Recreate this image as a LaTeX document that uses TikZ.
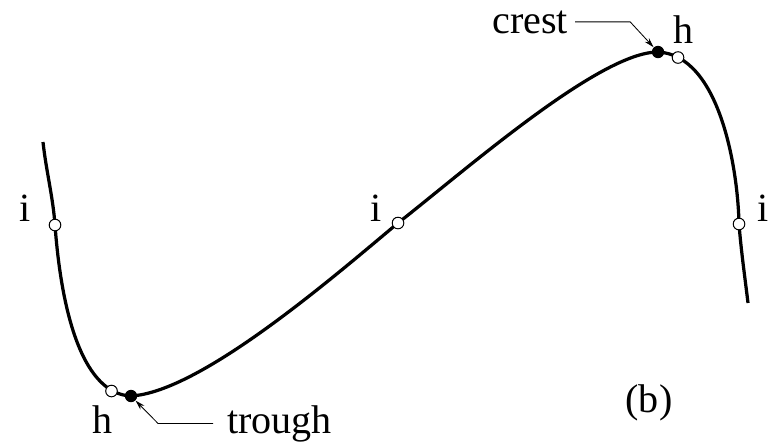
\documentclass[tikz,border=0pt]{standalone}
\usepackage{fontspec}
\setmainfont{Liberation Serif}
\usetikzlibrary{positioning, arrows.meta}

\begin{document}
\begin{tikzpicture}[x=0.025cm, y=-0.025cm, >={Stealth[length=7pt, width=4pt]},
  every node/.style={font=\fontsize{28.5}{34}\selectfont},
  hole/.style={circle, draw, fill=white, line width=0.7pt, minimum size=0.29cm, inner sep=0pt},
  dot/.style={circle, fill=black, minimum size=0.31cm, inner sep=0pt},
  pointer/.style={->, line width=0.6pt}]
\useasboundingbox (0,0) rectangle (783,442);
% points on the curve
\coordinate (top) at (43,142);
\coordinate (ileftpt) at (55,225);
\coordinate (troughpt) at (131,396);
\coordinate (imidpt) at (398,223);
\coordinate (crestpt) at (658,52);
\coordinate (irightpt) at (739,224);
\coordinate (bottom) at (748,303);
\draw[line width=2.3pt] (top) .. controls (46,170) and (53,197) .. (ileftpt)
  .. controls (62,320) and (85,394) .. (troughpt)
  .. controls (200,392) and (330,280) .. (imidpt)
  .. controls (468,168) and (600,52) .. (crestpt)
  .. controls (720,55) and (738,170) .. (irightpt)
  .. controls (741,250) and (745,278) .. (bottom);
% markers
\node[hole] (ileft) at (ileftpt) {};
\node[hole] (hlow) at (111.5,391) {};
\node[dot] (trough) at (troughpt) {};
\node[hole] (imid) at (imidpt) {};
\node[dot] (crest) at (crestpt) {};
\node[hole] (hhigh) at (678,57.5) {};
\node[hole] (iright) at (irightpt) {};
% labels
\node (ileftlbl) at (25,208) {i};
\node (imidlbl) at (376,208) {i};
\node (irightlbl) at (763,208) {i};
\node (hhighlbl) at (684,30) {h};
\node (hlowlbl) at (103,420) {h};
\node[anchor=base west, inner xsep=0.175cm] (crestlbl) at (485,33) {crest};
\node[anchor=base west, inner xsep=0.35cm] (troughlbl) at (213,433) {trough};
\node (figlbl) at (649,403) {(b)};
\draw[pointer] (crestlbl.east) -- ++(55,0) -- (crest);
\draw[pointer] (troughlbl.west) -- ++(-55,0) -- (trough);
\end{tikzpicture}
\end{document}
